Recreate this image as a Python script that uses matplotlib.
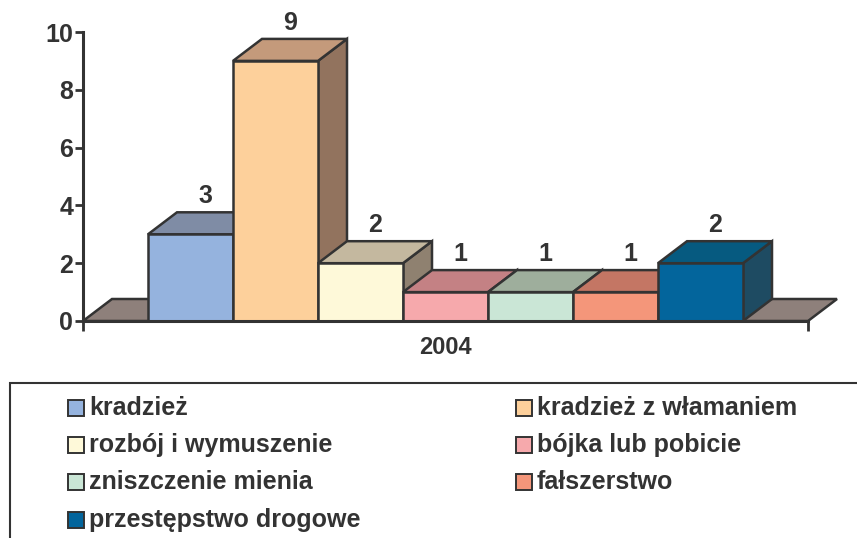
import matplotlib.pyplot as plt
from matplotlib.patches import Polygon, Rectangle

categories = ['kradzież', 'kradzież z włamaniem', 'rozbój i wymuszenie',
              'bójka lub pobicie', 'zniszczenie mienia', 'fałszerstwo',
              'przestępstwo drogowe']
values = [3, 9, 2, 1, 1, 1, 2]
year = '2004'

front_cols = ['#95B3DE', '#FDD09B', '#FEF9D9', '#F6A9AC', '#CAE6D6', '#F4967A', '#03659C']
top_cols = ['#7F8CA5', '#C49A7B', '#C4B89F', '#C48184', '#9EAE9C', '#C47664', '#065A80']
side_cols = ['#6B7790', '#92735E', '#8F8170', '#926064', '#75826F', '#92584B', '#1E4B62']
floor_col = '#8E807B'
edge = '#333333'

plt.rcParams['font.family'] = ['Liberation Sans', 'DejaVu Sans']
plt.rcParams['font.weight'] = 'bold'

fig = plt.figure(figsize=(8.57, 5.38), dpi=100)
ax = fig.add_axes([83/857, 217/538, 760/857, 289/538])

bw = 1.0
dx = 29/85
dy = 22/28.9
gap = 65/85
floor_w = 2*gap + len(values)*bw
lw = 1.8

# floor
ax.add_patch(Polygon([(0, 0), (floor_w, 0), (floor_w+dx, dy), (dx, dy)],
                     closed=True, fc=floor_col, ec=edge, lw=lw, zorder=1))

for i, (v, fc, tc, sc) in enumerate(zip(values, front_cols, top_cols, side_cols)):
    x0 = gap + i*bw
    x1 = x0 + bw
    side = Polygon([(x1, 0), (x1+dx, dy), (x1+dx, v+dy), (x1, v)],
                   closed=True, fc=sc, ec=edge, lw=lw, zorder=2+i)
    top = Polygon([(x0, v), (x1, v), (x1+dx, v+dy), (x0+dx, v+dy)],
                  closed=True, fc=tc, ec=edge, lw=lw, zorder=2+i)
    front = Rectangle((x0, 0), bw, v, fc=fc, ec=edge, lw=lw, zorder=2+i)
    for p in (side, top, front):
        ax.add_patch(p)
    ax.text(x0 + bw/2 + dx/2, v + dy + 0.15, str(v), ha='center', va='bottom',
            fontsize=18, fontweight='bold', color=edge, zorder=20)

ax.set_xlim(0, 760/85)
ax.set_ylim(0, 10)
for s in ['top', 'right']:
    ax.spines[s].set_visible(False)
ax.spines['left'].set_color(edge)
ax.spines['left'].set_linewidth(2.2)
ax.spines['left'].set_zorder(30)
ax.spines['bottom'].set_color(edge)
ax.spines['bottom'].set_linewidth(2.2)
ax.spines['bottom'].set_bounds(0, floor_w)
ax.spines['bottom'].set_zorder(30)

ax.set_yticks(range(0, 11, 2))
ax.tick_params(axis='y', length=6, width=2, color=edge, labelsize=18,
               labelcolor=edge, pad=1)
ax.set_xticks([floor_w/2], [year])
ax.tick_params(axis='x', which='major', length=0, labelsize=17,
               labelcolor=edge, pad=11)
ax.set_xticks([0, floor_w], minor=True)
ax.tick_params(axis='x', which='minor', length=7, width=2, color=edge)
for t in ax.get_yticklabels() + ax.get_xticklabels():
    t.set_fontweight('bold')

# legend box
W, H = 857, 538
fig.patches.append(Rectangle((10/W, -0.1), 1.0, (H-383)/H + 0.1,
                             transform=fig.transFigure, fc='none', ec=edge, lw=1.5))
col_x = [68, 516]
row_y = [408, 445, 482, 520]
for k, (name, fc) in enumerate(zip(categories, front_cols)):
    cx = col_x[k % 2]
    cy = row_y[k // 2]
    fig.patches.append(Rectangle((cx/W, (H-cy-8)/H), 16/W, 16/H,
                                 transform=fig.transFigure, fc=fc, ec=edge, lw=1.4))
    fig.text((cx+21)/W, (H-cy)/H, name, ha='left', va='center', fontsize=18,
             fontweight='bold', color=edge)

fig.savefig('out.png', dpi=100)
